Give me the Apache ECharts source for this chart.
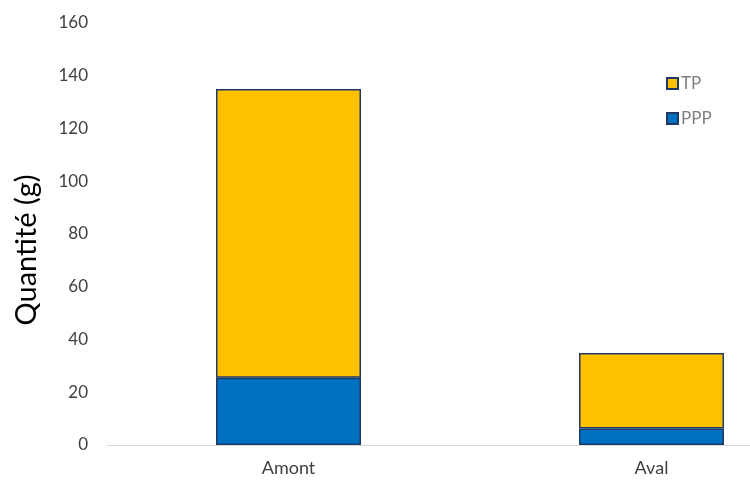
<!DOCTYPE html>
<html><head><meta charset="utf-8">
<script src="https://cdn.jsdelivr.net/npm/echarts@6/dist/echarts.min.js"></script>
<style>html,body{margin:0;padding:0;background:#fff;overflow:hidden}#c{width:833px;height:480px}</style>
</head><body><div id="c"></div>
<script>
const categories = ['Amont', 'Aval'];
const pppValues = [25.5, 6.3];
const tpValues = [109.5, 28.6];
const yTicks = [0, 20, 40, 60, 80, 100, 120, 140, 160];
const yTitle = 'Quantité (g)';

const chart = echarts.init(document.getElementById('c'), null, {renderer: 'canvas'});
const font = 'Lato, "Open Sans", sans-serif';
chart.setOption({
  animation: false,
  textStyle: {fontFamily: font},
  grid: {left: 107, right: 0, top: 23, bottom: 35},
  legend: {
    data: ['TP', 'PPP'],
    orient: 'vertical',
    left: 661, top: 70,
    itemWidth: 11, itemHeight: 11, itemGap: 18,
    icon: 'rect',
    textStyle: {color: '#7f7f7f', fontSize: 17, fontFamily: font, padding: [0,0,0,-2]}
  },
  graphic: [{
    type: 'text', x: 27, y: 250, rotation: Math.PI / 2,
    style: {text: yTitle, fontSize: 29, fontFamily: font, fill: '#000',
            align: 'center', verticalAlign: 'middle'}
  }],
  xAxis: {
    type: 'category', data: categories,
    axisLine: {lineStyle: {color: '#d9d9d9', width: 1}},
    axisTick: {show: false},
    axisLabel: {color: '#404040', fontSize: 18, margin: 14}
  },
  yAxis: {
    type: 'value', min: yTicks[0], max: yTicks[yTicks.length-1], interval: 20,
    splitLine: {show: false},
    axisLine: {show: false}, axisTick: {show: false},
    axisLabel: {color: '#404040', fontSize: 17, margin: 19}
  },
  series: [
    {name: 'PPP', type: 'bar', stack: 'a', data: pppValues, barWidth: 145,
     itemStyle: {color: '#0070C0', borderColor: '#1F3864', borderWidth: 1.5}},
    {name: 'TP', type: 'bar', stack: 'a', data: tpValues, barWidth: 145,
     itemStyle: {color: '#FFC000', borderColor: '#1F3864', borderWidth: 1.5}}
  ]
});
</script></body></html>
